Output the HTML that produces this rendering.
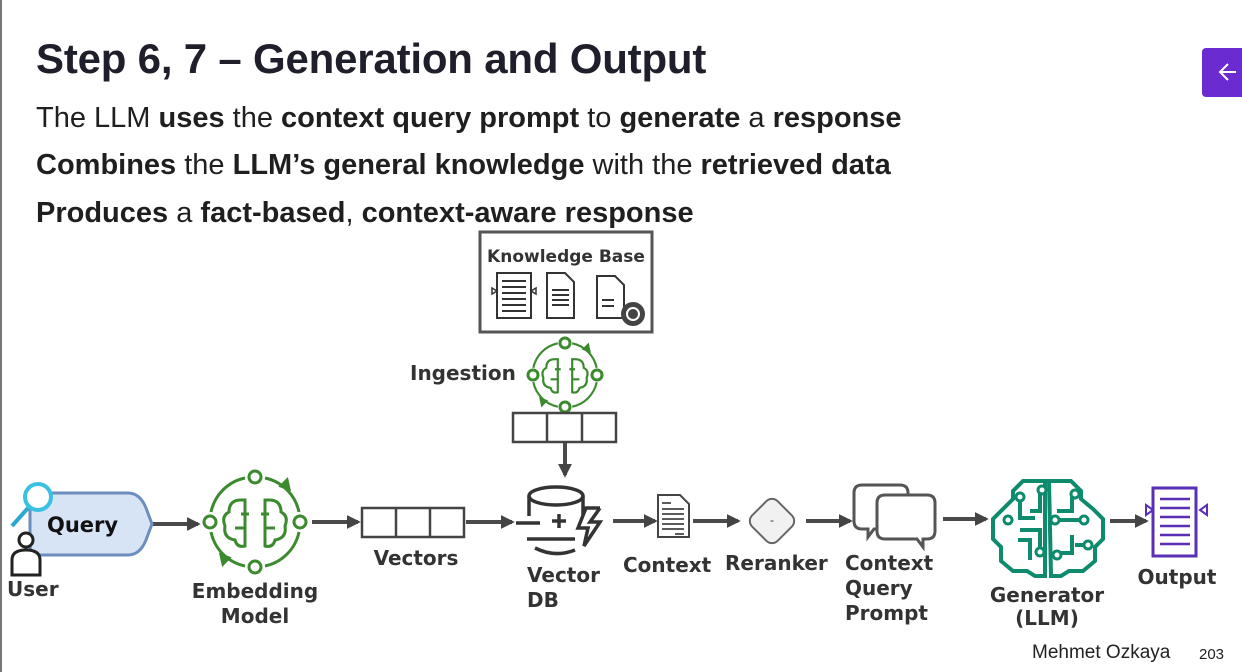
<!DOCTYPE html>
<html><head><meta charset="utf-8"><style>
html,body{margin:0;padding:0;background:#fff;}
body{width:1242px;height:672px;position:relative;overflow:hidden;font-family:"Liberation Sans",sans-serif;color:#1a1a1a;}
.t{position:absolute;left:36px;top:35px;font-size:42px;font-weight:bold;color:#1f1f2b;letter-spacing:-0.2px;white-space:nowrap;}
.b{position:absolute;left:36px;font-size:29px;color:#1f1f1f;white-space:nowrap;}
.b b{font-weight:bold;}
</style></head><body>
<div style="position:absolute;left:0;top:0;width:2px;height:672px;background:#777"></div>
<div class="t">Step 6, 7 – Generation and Output</div>
<div class="b" style="top:102px">The LLM <b>uses</b> the <b>context query prompt</b> to <b>generate</b> a <b>response</b></div>
<div class="b" style="top:149px"><b>Combines</b> the <b>LLM’s general knowledge</b> with the <b>retrieved data</b></div>
<div class="b" style="top:197px"><b>Produces</b> a <b>fact-based</b>, <b>context-aware response</b></div>
<div style="position:absolute;left:1202px;top:48px;width:46px;height:49px;background:#6a2bd0;border-radius:4px;"></div>
<svg style="position:absolute;left:0;top:0" width="1242" height="672" viewBox="0 0 1242 672">
<defs>
<marker id="h" viewBox="0 0 10 10" refX="8" refY="5" markerWidth="14" markerHeight="14" orient="auto" markerUnits="userSpaceOnUse"><path d="M0,0L10,5L0,10z" fill="#444"/></marker>
<g id="brain" fill="none" stroke="#3b8a2e" stroke-width="3">
<path d="M-10,-44 A44,44 0 0 0 -44,-10 M10,44 A44,44 0 0 0 44,10 M-44,10 A44,44 0 0 0 -10,44 M44,-10 A44,44 0 0 0 10,-44"/>
<path d="M-14,-22 q-12,0 -12,12 q-8,4 -4,14 q-2,12 10,14 q2,8 10,6 v-46z M14,-22 q12,0 12,12 q8,4 4,14 q2,12 -10,14 q-2,8 -10,6 v-46z M-14,-8 h8 M-20,6 h10 v-8 M14,-8 h-8 M20,6 h-10 v8"/>
<path d="M26,-36 l6,-6 l2,9z M-26,36 l-6,6 l-2,-9z" fill="#3b8a2e"/>
</g></defs>
<g stroke="#fff" stroke-width="2" fill="none"><path d="M1236,72 h-16 M1228,64 l-8,8 8,8"/></g>
<g stroke="#4a4a4a" stroke-width="4" marker-end="url(#h)">
<line x1="152" y1="524" x2="198" y2="524"/><line x1="312" y1="522" x2="358" y2="522"/>
<line x1="466" y1="522" x2="512" y2="522"/><line x1="613" y1="521" x2="655" y2="521"/>
<line x1="693" y1="521" x2="738" y2="521"/><line x1="806" y1="521" x2="850" y2="521"/>
<line x1="943" y1="519" x2="986" y2="519"/><line x1="1110" y1="521" x2="1146" y2="521"/>
<line x1="565" y1="442" x2="565" y2="475"/>
</g>
<path d="M40,493 H128 Q140,493 146,508 L152,524 L146,540 Q140,555 128,555 H40 Q30,555 30,545 V503 Q30,493 40,493z" fill="#d7e4f6" stroke="#6c8ebf" stroke-width="3"/>
<line x1="28" y1="508" x2="12" y2="526" stroke="#2aa8d0" stroke-width="4"/>
<circle cx="38" cy="497" r="13" fill="#fff" stroke="#3ac0e2" stroke-width="4"/>
<circle cx="26" cy="540" r="7" fill="#fff" stroke="#222" stroke-width="3"/>
<path d="M12,575 V560 q0,-10 14,-10 q14,0 14,10 V575z" fill="#fff" stroke="#222" stroke-width="3"/>
<text x="47" y="532" font-family="DejaVu Sans, sans-serif" font-size="21" font-weight="bold" fill="#111">Query</text>
<g font-family="DejaVu Sans, sans-serif" font-weight="bold" font-size="20" fill="#333">
<text x="7" y="596">User</text>
<text x="255" y="598" text-anchor="middle">Embedding</text><text x="255" y="623" text-anchor="middle">Model</text>
<text x="416" y="565" text-anchor="middle">Vectors</text>
<text x="527" y="582">Vector</text><text x="527" y="607">DB</text>
<text x="623" y="572">Context</text><text x="725" y="570">Reranker</text>
<text x="845" y="570">Context</text><text x="845" y="595">Query</text><text x="845" y="620">Prompt</text>
<text x="1047" y="602" text-anchor="middle">Generator</text><text x="1047" y="625" text-anchor="middle">(LLM)</text>
<text x="1177" y="584" text-anchor="middle">Output</text>
<text x="566" y="262" text-anchor="middle" font-size="17">Knowledge Base</text>
<text x="410" y="380">Ingestion</text>
</g>
<use href="#brain" transform="translate(255,522)"/>
<g fill="#fff" stroke="#3b8a2e" stroke-width="3"><circle cx="255" cy="477" r="6"/><circle cx="255" cy="567" r="6"/><circle cx="210" cy="522" r="6"/><circle cx="300" cy="522" r="6"/></g>
<use href="#brain" transform="translate(565,375) scale(0.72)"/>
<g fill="#fff" stroke="#3b8a2e" stroke-width="3"><circle cx="565" cy="343" r="5"/><circle cx="565" cy="407" r="5"/><circle cx="533" cy="375" r="5"/><circle cx="597" cy="375" r="5"/></g>
<g fill="#fff" stroke="#444" stroke-width="2.5">
<rect x="362" y="508" width="102" height="29"/><line x1="396" y1="508" x2="396" y2="537"/><line x1="430" y1="508" x2="430" y2="537"/>
<rect x="513" y="413" width="103" height="29"/><line x1="547" y1="413" x2="547" y2="442"/><line x1="582" y1="413" x2="582" y2="442"/>
</g>
<rect x="480" y="232" width="172" height="100" fill="none" stroke="#555" stroke-width="3"/>
<g fill="#fff" stroke="#333" stroke-width="2">
<rect x="497" y="273" width="34" height="45"/><path d="M547,273 h18 l9,9 v36 h-27z"/><path d="M597,276 h18 l9,9 v33 h-27z"/>
</g>
<path d="M492,288 l5,3 l-5,3z M536,288 l-5,3 l5,3z" fill="#fff" stroke="#333" stroke-width="1.5"/>
<g stroke="#333" stroke-width="2"><path d="M502,281h24M502,287h24M502,293h24M502,299h24M502,305h24M502,311h24M552,290h17M552,295h17M552,300h17M552,305h17M602,300h12M602,306h12"/></g>
<circle cx="633" cy="314" r="12" fill="#444"/><circle cx="633" cy="314" r="6" fill="none" stroke="#fff" stroke-width="2"/>
<g fill="none" stroke="#333" stroke-width="3.5">
<ellipse cx="556" cy="496" rx="27" ry="9"/><path d="M529,496 v20 M583,496 v20 M516,523 h24 M527,539 h48 M535,548 q20,10 40,2 M552,521 h14 M559,514 v14 M600,508 h-14 l-8,20 h10 l-4,18 l16,-24 h-10 l10,-14"/>
</g>
<path d="M658,495 h22 l9,9 v33 h-31z" fill="#fff" stroke="#444" stroke-width="2"/>
<path d="M662,503h9M662,509h22M662,514h22M662,519h22M662,524h22M662,529h22M675,534h9" stroke="#444" stroke-width="1.8"/>
<rect x="754" y="503" width="36" height="36" rx="8" transform="rotate(45 772 521)" fill="#f1f1f1" stroke="#666" stroke-width="2"/>
<text x="772" y="524" text-anchor="middle" font-size="12" fill="#333">-</text>
<path d="M862,485 h38 q8,0 8,8 v28 q0,8 -8,8 h-26 l-6,8 v-8 h-6 q-8,0 -8,-8 v-28 q0,-8 8,-8z" fill="#fff" stroke="#555" stroke-width="3"/>
<path d="M885,495 h42 q8,0 8,8 v28 q0,8 -8,8 h-4 v8 l-6,-8 h-32 q-8,0 -8,-8 v-28 q0,-8 8,-8z" fill="#fff" stroke="#555" stroke-width="3"/>
<g fill="none" stroke="#0e8a6c" stroke-width="4">
<path d="M1045,481 h-22 l-10,10 v8 l-10,10 l-10,10 v20 l8,8 v14 l12,10 h14 l8,5 h10z M1049,481 h22 l10,10 v8 l12,10 l10,10 v20 l-8,8 v14 l-12,10 h-14 l-8,5 h-10z"/>
<path d="M1020,500 v18 h15 M1040,493 v18 h-10 M1020,530 h20 v20 M1030,560 v-20 h-12 M1072,497 v14 h-15 M1060,520 h20 M1072,535 v18 h-15 M1085,545 h-10"/>
</g>
<g fill="#fff" stroke="#0e8a6c" stroke-width="3"><circle cx="1020" cy="497" r="4"/><circle cx="1042" cy="490" r="4"/><circle cx="1008" cy="520" r="4"/><circle cx="1040" cy="552" r="4"/><circle cx="1075" cy="494" r="4"/><circle cx="1055" cy="520" r="4"/><circle cx="1084" cy="520" r="4"/><circle cx="1057" cy="555" r="4"/><circle cx="1088" cy="545" r="4"/></g>
<rect x="1153" y="488" width="43" height="68" fill="#fff" stroke="#5b2fb5" stroke-width="3"/>
<path d="M1160,499h30M1160,508h30M1160,517h30M1160,526h30M1160,535h30M1160,544h30" stroke="#5b2fb5" stroke-width="2.5"/>
<path d="M1146,505 l7,5 l-7,5z M1207,505 l-7,5 l7,5z" fill="#fff" stroke="#5b2fb5" stroke-width="2"/>
<text x="1032" y="658" font-size="19" fill="#222">Mehmet Ozkaya</text>
<text x="1199" y="659" font-size="15" fill="#222">203</text>
</svg>
</body></html>
